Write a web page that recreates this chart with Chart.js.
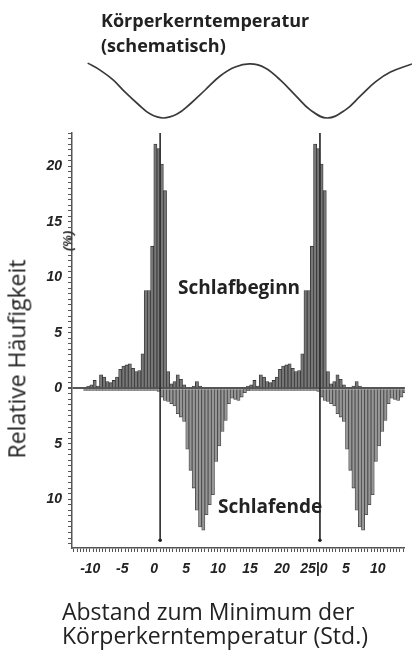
<!DOCTYPE html>
<html lang="de">
<head>
<meta charset="utf-8">
<title>Schlafbeginn und Schlafende</title>
<script src="https://cdn.jsdelivr.net/npm/chart.js@4.4.1/dist/chart.umd.min.js"></script>
<style>
  html, body { margin: 0; padding: 0; background: #fff; }
  #wrap { position: relative; width: 412px; height: 653px; overflow: hidden;
          font-family: "Open Sans", "Noto Sans", sans-serif; color: #222; }
  canvas { position: absolute; left: 0; top: 0; }
  .lbl { position: absolute; white-space: nowrap; line-height: 1.362; }
  .bold { font-weight: 700; }
  .rot { transform: translate(-50%, -50%) rotate(-90deg); }
</style>
</head>
<body>
<div id="wrap">
  <canvas id="tempChart" width="412" height="130"></canvas>
  <canvas id="histChart" width="412" height="653"></canvas>

  <div class="lbl bold" style="left:101px;top:8px;font-size:18px;line-height:25px">Körperkerntemperatur<br>(schematisch)</div>
  <div class="lbl bold" style="left:178px;top:275px;font-size:19px">Schlafbeginn</div>
  <div class="lbl bold" style="left:218px;top:494px;font-size:19px">Schlafende</div>
  <div class="lbl rot" style="left:17px;top:359px;font-size:23px">Relative Häufigkeit</div>
  <div class="lbl rot" style="left:68px;top:241px;font-size:13px;font-style:italic;font-weight:700;font-family:'Liberation Sans',sans-serif;color:#333">(%)</div>
  <div class="lbl" style="left:62px;top:599px;font-size:23px;line-height:24px">Abstand zum Minimum der<br>Körperkerntemperatur (Std.)</div>
</div>

<script>
// x range in hours relative to the temperature minimum (double plot, period 25 h)
const xMin = -13.8;
const xMax = 38.3;
const cycleOffsets = [0, 25];

// histogram bins (0.5 h), centres
const binHours = [-11.75, -11.25, -10.75, -10.25, -9.75, -9.25, -8.75, -8.25, -7.75, -7.25,
  -6.75, -6.25, -5.75, -5.25, -4.75, -4.25, -3.75, -3.25, -2.75, -2.25, -1.75, -1.25, -0.75, -0.25,
  0.25, 0.75, 1.25, 1.75, 2.25, 2.75, 3.25, 3.75, 4.25, 4.75, 5.25, 5.75, 6.25, 6.75, 7.25, 7.75,
  8.25, 8.75, 9.25, 9.75, 10.25, 10.75, 11.25, 11.75, 12.25, 12.75, 13.25, 13.75];

// Schlafbeginn (%), plotted upward
const onsetValues = [0, 0.2, 0.3, 0.7, 0.2, 1.2, 1.0, 0.6, 0.5, 0.7,
  1.0, 1.7, 2.0, 2.1, 2.2, 1.8, 1.5, 1.6, 3.1, 8.8, 8.8, 12.8, 22.0, 21.6,
  20.2, 17.8, 1.5, 0.4, 0.6, 1.2, 0.8, 0.3, 0, 0, 0.2, 0.6, 0.2, 0, 0, 0,
  0, 0, 0, 0, 0, 0, 0, 0, 0, 0, 0, 0];

// Schlafende (%), plotted downward
const endValues = [0.2, 0.2, 0.2, 0.2, 0.2, 0.2, 0.2, 0.2, 0.2, 0.2,
  0.2, 0.2, 0.2, 0.2, 0.2, 0.2, 0.2, 0.2, 0.2, 0.2, 0.2, 0.2, 0.2, 0.3,
  0.8, 1.1, 1.2, 1.4, 1.6, 2.3, 2.6, 3.0, 5.5, 7.4, 9.0, 11.0, 12.5, 12.8, 11.4, 10.5,
  9.6, 6.6, 5.2, 3.9, 2.9, 1.4, 0.9, 1.0, 1.1, 0.8, 0.4, 0.2];

// temperature minimum markers
const markerHours = [0, 25];
const markerTop = 23;
const markerBottom = -13.7;

// schematic body core temperature (relative units)
const tempHours = [-11.4, -9.5, -7.5, -5.7, -3.7, -1.8, 0.2, 2.3, 4.3, 6.6, 8.9, 11.2, 13.5,
  15.8, 18.1, 20.4, 22.7, 25.3, 28.1, 30.4, 32.7, 35.0, 38.3];
const tempValues = [0.96, 0.71, 0.36, -0.07, -0.5, -0.86, -1.0, -0.86, -0.5, 0.0, 0.5, 0.82, 0.93,
  0.79, 0.36, -0.18, -0.71, -1.0, -0.71, -0.21, 0.29, 0.64, 0.93];

const tickFont = { family: "'Liberation Sans', Arial, sans-serif", size: 14, style: 'italic', weight: 'bold' };

function histData(values, sign, offset) {
  return binHours.map((h, i) => ({ x: h + offset, y: sign * values[i] }));
}

const datasets = [];
cycleOffsets.forEach(off => {
  datasets.push({
    label: 'Schlafbeginn',
    data: histData(onsetValues, 1, off),
    backgroundColor: '#777',
    borderColor: '#333',
    borderWidth: 0.8,
    barPercentage: 1,
    categoryPercentage: 1,
    grouped: false,
    order: 2
  });
  datasets.push({
    label: 'Schlafende',
    data: histData(endValues, -1, off),
    backgroundColor: '#969696',
    borderColor: '#444',
    borderWidth: 0.8,
    barPercentage: 1,
    categoryPercentage: 1,
    grouped: false,
    order: 2
  });
});

datasets.push({
  type: 'line',
  label: 'Minimum',
  data: markerHours.flatMap(h => [{ x: h, y: markerTop }, { x: h, y: markerBottom }, { x: h, y: null }]),
  borderColor: '#333',
  borderWidth: 1,
  spanGaps: false,
  pointRadius: ctx => (ctx.raw && ctx.raw.y === markerBottom ? 1.8 : 0),
  pointBackgroundColor: '#222',
  pointBorderWidth: 0,
  order: 0
});

new Chart(document.getElementById('histChart'), {
  type: 'bar',
  data: { datasets },
  options: {
    responsive: false,
    animation: false,
    devicePixelRatio: 1,
    layout: { padding: { top: 133, right: 0, bottom: 60, left: 0 } },
    plugins: { legend: { display: false }, tooltip: { enabled: false } },
    scales: {
      x: {
        type: 'linear',
        min: xMin,
        max: xMax,
        offset: false,
        afterFit: s => { s.height = 45; },
        border: { display: true, color: '#555', width: 1.5 },
        grid: { drawOnChartArea: false, offset: false, tickLength: 4, tickColor: '#555', tickWidth: 1 },
        ticks: {
          stepSize: 0.5,
          autoSkip: false,
          maxRotation: 0,
          includeBounds: false,
          padding: 9,
          labelOffset: -6,
          color: '#222',
          font: tickFont,
          callback: v => (v % 5 !== 0 ? '' : v < 25 ? String(v) : v === 25 ? '25|0' : String(v - 25))
        }
      },
      y: {
        min: markerBottom - 0.7,
        max: markerTop,
        afterFit: s => { s.width = 72; },
        border: { display: true, color: '#555', width: 1.5 },
        grid: {
          color: ctx => (ctx.tick && ctx.tick.value === 0 ? '#555' : 'rgba(0,0,0,0)'),
          lineWidth: ctx => (ctx.tick && ctx.tick.value === 0 ? 2 : 1),
          tickLength: 4,
          tickColor: '#555'
        },
        ticks: {
          stepSize: 0.5,
          autoSkip: false,
          includeBounds: false,
          padding: 6,
          color: '#222',
          font: tickFont,
          callback: v => (v % 5 === 0 ? String(Math.abs(v)) : '')
        }
      }
    }
  }
});

new Chart(document.getElementById('tempChart'), {
  type: 'line',
  data: {
    datasets: [{
      label: 'Körperkerntemperatur',
      data: tempHours.map((h, i) => ({ x: h, y: tempValues[i] })),
      borderColor: '#3a3a3a',
      borderWidth: 1.7,
      pointRadius: 0,
      tension: 0.4,
      clip: 4
    }]
  },
  options: {
    responsive: false,
    animation: false,
    devicePixelRatio: 1,
    layout: { padding: { top: 62, right: 0, bottom: 12, left: 72 } },
    plugins: { legend: { display: false }, tooltip: { enabled: false } },
    scales: {
      x: { type: 'linear', min: xMin, max: xMax, display: false },
      y: { min: -1, max: 1, display: false }
    }
  }
});
</script>
</body>
</html>
